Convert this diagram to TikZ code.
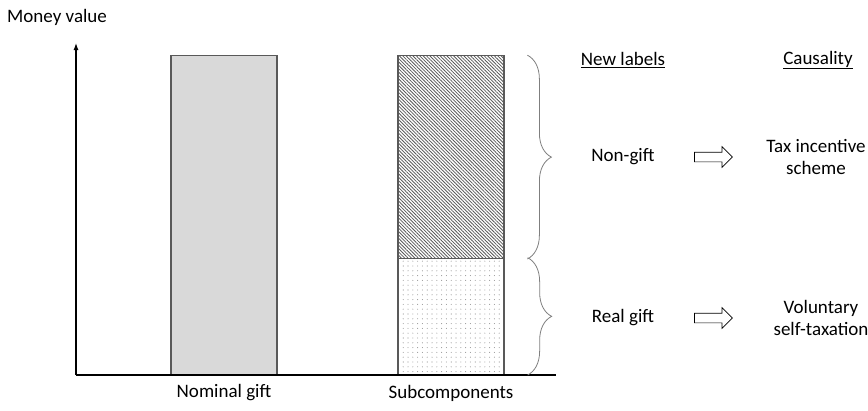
\documentclass[tikz,border=0pt]{standalone}
\usepackage{fontspec}
\setmainfont{Carlito}
\usepackage{xcolor}
\usetikzlibrary{arrows.meta,positioning,patterns.meta,shapes.arrows,decorations.pathreplacing}

\definecolor{barline}{HTML}{595959}
\definecolor{barfill}{HTML}{D9D9D9}
\definecolor{bracecol}{HTML}{7F7F7F}

\begin{document}
\begin{tikzpicture}[x=1pt, y=-1pt,
  every node/.style={font=\fontsize{19}{22}\selectfont},
  axis/.style={line width=1.2pt, black},
  bar/.style={draw=barline, line width=1.3pt, minimum width=106, anchor=south, inner sep=0},
  hatchbar/.style={bar, fill=gray!45,
    pattern={Lines[angle=-45, distance=2.4pt, line width=0.8pt]}, pattern color=gray!70!black},
  dotbar/.style={bar, pattern={Dots[distance=4.8pt, radius=0.55pt]}, pattern color=gray!80},
  bracket/.style={decorate, decoration={brace, amplitude=24pt}, draw=bracecol, line width=0.8pt},
  lbl/.style={align=center, inner sep=1pt},
  hollow/.style={single arrow, draw=black, line width=0.7pt, minimum height=38,
    inner xsep=0, inner ysep=4.5pt, single arrow head extend=5.5pt, single arrow head indent=0pt},
]
  \useasboundingbox (0,0) rectangle (868,410);

  % axes
  \coordinate (O) at (76,375);
  \coordinate (ytop) at (76,43);
  \coordinate (xend) at (556,375);
  \node[anchor=west, lbl] (money) at (6,17) {Money value};

  % bars
  \node[bar, fill=barfill, minimum height=319] (nominal) at (224,375) {};
  \node[hatchbar, minimum height=203] (nongift) at (451,259) {};
  \node[dotbar, minimum height=116] (realgift) at (451,375) {};

  \draw[axis, -{Latex[length=7pt, width=5pt]}] (O) -- (ytop);
  \draw[axis] (O) -- (xend);

  \node[lbl] (nomlbl) at (224,393) {Nominal gift};
  \node[lbl] (sublbl) at (451,393) {Subcomponents};

  % braces
  \draw[bracket] ([xshift=23]nongift.north east) -- ([xshift=23]nongift.south east);
  \draw[bracket] ([xshift=23]realgift.north east) -- ([xshift=23]realgift.south east);

  % headings
  \node[lbl] (newlbl) at (623,60) {\underline{New labels}};
  \node[lbl] (causal) at (818,60) {\underline{Causality}};

  % labels and causes
  \node[lbl] (ngl) at (623,157) {Non-gift};
  \node[hollow] (arr1) at (711,157) {};
  \node[lbl] (tax) at (816,157) {Tax incentive\\scheme};

  \node[lbl] (rgl) at (623,318) {Real gift};
  \node[hollow] (arr2) at (711,318) {};
  \node[lbl] (vol) at (821,318) {Voluntary\\self-taxation};
\end{tikzpicture}
\end{document}
